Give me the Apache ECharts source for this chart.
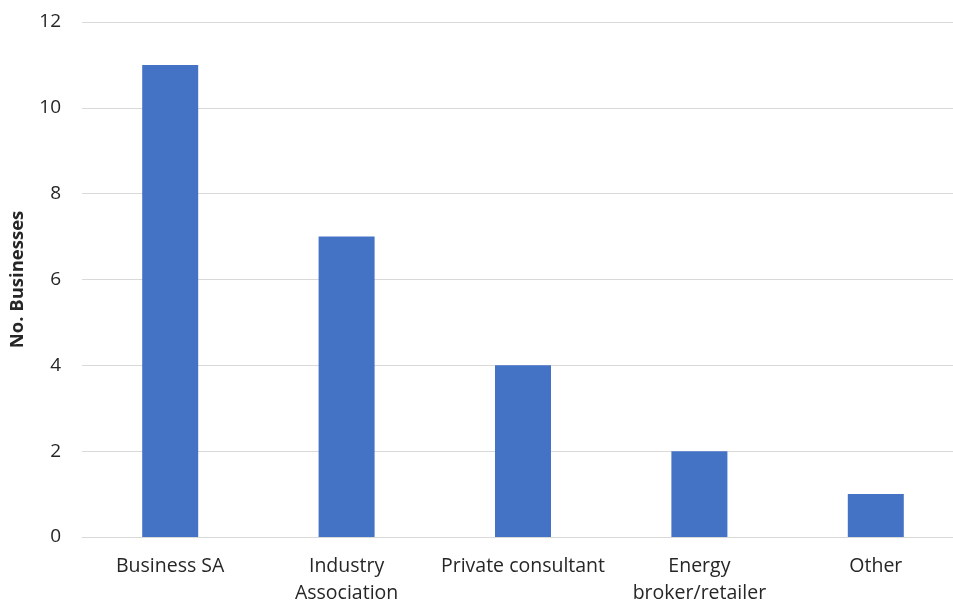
<!DOCTYPE html>
<html>
<head>
<meta charset="utf-8">
<script src="https://cdn.jsdelivr.net/npm/echarts@6/dist/echarts.min.js"></script>
<style>html,body{margin:0;padding:0;background:#fff}#c{width:953px;height:603px}</style>
</head>
<body>
<div id="c"></div>
<script>
const categories = ["Business SA", "Industry\nAssociation", "Private consultant", "Energy\nbroker/retailer", "Other"];
const values = [11, 7, 4, 2, 1];
const yTicks = [0, 2, 4, 6, 8, 10, 12];
const yAxisTitle = "No. Businesses";

const chart = echarts.init(document.getElementById('c'), null, {renderer: 'canvas'});
const font = "'Open Sans', 'Noto Sans', sans-serif";
chart.setOption({
  animation: false,
  backgroundColor: '#fff',
  grid: {left: 82, right: -11, top: 22, bottom: 66, containLabel: false, outerBoundsMode: 'none'},
  xAxis: {
    type: 'category',
    data: categories,
    axisTick: {show: false},
    axisLine: {lineStyle: {color: '#d9d9d9', width: 1}},
    axisLabel: {color: '#262626', fontFamily: font, fontSize: 19.5, lineHeight: 27, margin: 16, interval: 0}
  },
  yAxis: {
    type: 'value',
    min: yTicks[0],
    max: yTicks[yTicks.length - 1],
    interval: 2,
    name: yAxisTitle,
    nameLocation: 'middle',
    nameGap: 55,
    nameTextStyle: {color: '#262626', fontFamily: font, fontSize: 18.5, fontWeight: 'bold'},
    axisLine: {show: false},
    axisTick: {show: false},
    axisLabel: {color: '#262626', fontFamily: font, fontSize: 19, margin: 21},
    splitLine: {lineStyle: {color: '#d9d9d9', width: 1}}
  },
  series: [{
    type: 'bar',
    data: values,
    barWidth: 56,
    itemStyle: {color: '#4472C4'}
  }]
});
</script>
</body>
</html>
